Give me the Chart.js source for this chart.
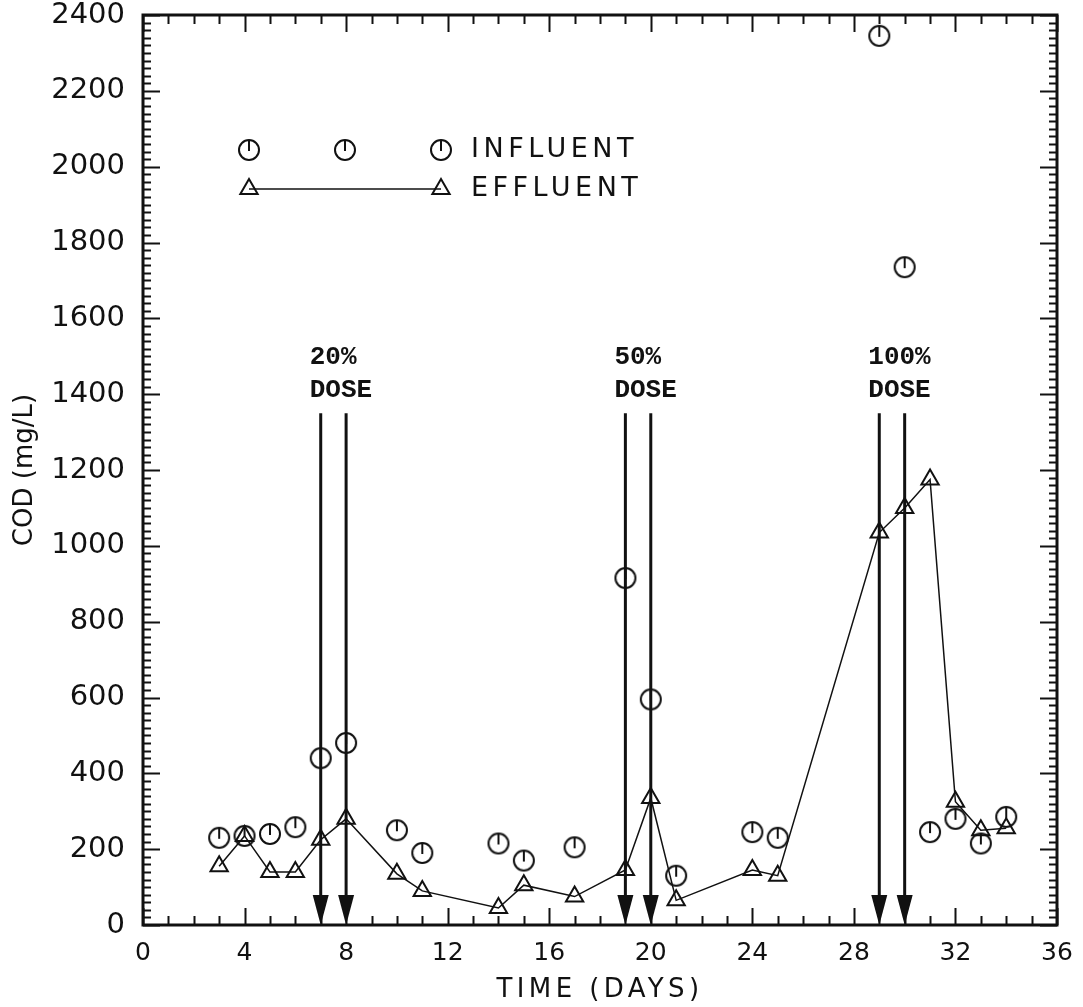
<!DOCTYPE html>
<html>
<head>
<meta charset="utf-8">
<script src="https://cdn.jsdelivr.net/npm/chart.js@4.4.1/dist/chart.umd.min.js"></script>
<style>
  html, body { margin: 0; padding: 0; background: #fff; }
  canvas { display: block; }
</style>
</head>
<body>
<canvas id="cod" width="1083" height="1007"></canvas>
<script>
// COD readings, mg/L
const influentDays = [3, 4, 5, 6, 7, 8, 10, 11, 14, 15, 17, 19, 20, 21, 24, 25, 29, 30, 31, 32, 33, 34];
const influentCod  = [230, 235, 240, 258, 440, 480, 250, 190, 215, 170, 205, 915, 595, 130, 245, 230, 2345, 1735, 245, 280, 215, 285];

const effluentDays = [3, 4, 5, 6, 7, 8, 10, 11, 14, 15, 17, 19, 20, 21, 24, 25, 29, 30, 31, 32, 33, 34];
const effluentCod  = [155, 235, 140, 140, 225, 280, 135, 90, 45, 105, 75, 145, 335, 65, 145, 130, 1035, 1100, 1175, 325, 250, 255];

// dosing events (arrows) and their labels
const doseDays = [7, 8, 19, 20, 29, 30];
const doseLabels = [
  { day: 7,  text: ['20%', 'DOSE'] },
  { day: 19, text: ['50%', 'DOSE'] },
  { day: 29, text: ['100%', 'DOSE'] }
];
const arrowTop = 1350;

const xTickStep = 4, xMax = 36;
const yTickStep = 200, yMax = 2400;

const INK = '#111';

// open circle with a short stroke from the top down to the centre
function makeCircleMark() {
  const c = document.createElement('canvas');
  c.width = 26; c.height = 26;
  const g = c.getContext('2d');
  g.strokeStyle = INK;
  g.lineWidth = 2;
  g.beginPath();
  g.arc(13, 13, 10, 0, Math.PI * 2);
  g.stroke();
  g.beginPath();
  g.moveTo(13, 3);
  g.lineTo(13, 14);
  g.stroke();
  return c;
}
const circleMark = makeCircleMark();

function drawTriangle(ctx, x, y, r) {
  ctx.beginPath();
  ctx.moveTo(x, y - r);
  ctx.lineTo(x + r * 0.866, y + r * 0.5);
  ctx.lineTo(x - r * 0.866, y + r * 0.5);
  ctx.closePath();
  ctx.stroke();
}

const framePlugin = {
  id: 'frame',
  beforeDraw(chart) {
    const ctx = chart.ctx;
    ctx.save();
    ctx.fillStyle = '#fff';
    ctx.fillRect(0, 0, chart.width, chart.height);
    ctx.restore();
  },
  beforeDatasetsDraw(chart) {
    const { ctx, scales: { x, y } } = chart;
    const bottom = y.getPixelForValue(0);
    const top = y.getPixelForValue(arrowTop);
    ctx.save();
    ctx.strokeStyle = INK;
    ctx.fillStyle = INK;
    ctx.lineWidth = 3;
    doseDays.forEach(d => {
      const px = x.getPixelForValue(d);
      ctx.beginPath();
      ctx.moveTo(px, top);
      ctx.lineTo(px, bottom - 20);
      ctx.stroke();
      ctx.beginPath();
      ctx.moveTo(px - 8, bottom - 30);
      ctx.lineTo(px + 8, bottom - 30);
      ctx.lineTo(px, bottom);
      ctx.closePath();
      ctx.fill();
    });

    // dose labels above the arrows
    ctx.font = 'bold 26px "Liberation Mono"';
    ctx.textAlign = 'left';
    ctx.textBaseline = 'alphabetic';
    doseLabels.forEach(l => {
      const px = x.getPixelForValue(l.day) - 11;
      ctx.fillText(l.text[0], px, top - 49);
      ctx.fillText(l.text[1], px, top - 16);
    });
    ctx.restore();
  },
  afterDatasetsDraw(chart) {
    const { ctx, chartArea: a, scales: { x, y } } = chart;
    ctx.save();
    ctx.strokeStyle = INK;

    // box
    ctx.lineWidth = 3;
    ctx.strokeRect(a.left, a.top, a.right - a.left, a.bottom - a.top);

    // inward ticks on all four sides
    ctx.lineWidth = 2;
    ctx.beginPath();
    for (let v = 0; v <= yMax; v += 20) {
      const py = Math.round(y.getPixelForValue(v)) + 0.5;
      const len = v % yTickStep === 0 ? 17 : 8;
      ctx.moveTo(a.left, py); ctx.lineTo(a.left + len, py);
      ctx.moveTo(a.right, py); ctx.lineTo(a.right - len, py);
    }
    for (let d = 0; d <= xMax; d += 1) {
      const px = Math.round(x.getPixelForValue(d)) + 0.5;
      const len = d % xTickStep === 0 ? 17 : 9;
      ctx.moveTo(px, a.bottom); ctx.lineTo(px, a.bottom - len);
      ctx.moveTo(px, a.top); ctx.lineTo(px, a.top + len);
    }
    ctx.stroke();

    // legend
    const lx = a.left + 106, mx = a.left + 202, rx = a.left + 298;
    const ly1 = a.top + 135, ly2 = a.top + 174;
    [lx, mx, rx].forEach(px => ctx.drawImage(circleMark, px - 13, ly1 - 13));
    ctx.lineWidth = 1.5;
    ctx.beginPath();
    ctx.moveTo(lx, ly2); ctx.lineTo(rx, ly2);
    ctx.stroke();
    ctx.lineWidth = 2;
    drawTriangle(ctx, lx, ly2, 10);
    drawTriangle(ctx, rx, ly2, 10);

    ctx.fillStyle = INK;
    ctx.font = '27px "DejaVu Sans"';
    ctx.letterSpacing = '4.5px';
    ctx.textAlign = 'left';
    ctx.textBaseline = 'middle';
    ctx.fillText('INFLUENT', rx + 30, ly1);
    ctx.fillText('EFFLUENT', rx + 30, ly2);

    // axis titles
    ctx.font = '26px "DejaVu Sans"';
    ctx.letterSpacing = '4.4px';
    ctx.textAlign = 'center';
    ctx.textBaseline = 'alphabetic';
    ctx.fillText('TIME (DAYS)', (a.left + a.right) / 2, 997);

    ctx.letterSpacing = '0px';
    ctx.translate(32, (a.top + a.bottom) / 2);
    ctx.rotate(-Math.PI / 2);
    ctx.fillText('COD (mg/L)', 0, 0);
    ctx.restore();
  }
};

const ctx = document.getElementById('cod').getContext('2d');
const codChart = new Chart(ctx, {
  type: 'line',
  data: {
    datasets: [
      {
        label: 'INFLUENT',
        data: influentDays.map((d, i) => ({ x: d, y: influentCod[i] })),
        showLine: false,
        pointStyle: circleMark,
        pointRadius: 11,
        borderColor: INK
      },
      {
        label: 'EFFLUENT',
        data: effluentDays.map((d, i) => ({ x: d, y: effluentCod[i] })),
        borderColor: INK,
        borderWidth: 1.5,
        tension: 0,
        pointStyle: 'triangle',
        pointRadius: 10,
        pointBorderWidth: 2,
        pointBorderColor: INK,
        pointBackgroundColor: 'rgba(0,0,0,0)'
      }
    ]
  },
  options: {
    responsive: false,
    animation: false,
    events: [],
    clip: false,
    layout: { padding: { top: 15, right: 26, left: 0, bottom: 0 } },
    plugins: {
      legend: { display: false },
      tooltip: { enabled: false }
    },
    scales: {
      x: {
        type: 'linear',
        min: 0,
        max: xMax,
        grid: { display: false, drawTicks: false },
        border: { display: false },
        ticks: {
          stepSize: xTickStep,
          autoSkip: false,
          maxRotation: 0,
          color: INK,
          padding: 13,
          font: { family: 'DejaVu Sans', size: 25 }
        },
        afterFit(scale) {
          scale.height = 82;
          scale.paddingLeft = 0;
          scale.paddingRight = 0;
        }
      },
      y: {
        min: 0,
        max: yMax,
        grid: { display: false, drawTicks: false },
        border: { display: false },
        ticks: {
          stepSize: yTickStep,
          autoSkip: false,
          color: INK,
          padding: 18,
          font: { family: 'DejaVu Sans', size: 29 },
          callback: v => String(v)
        },
        afterFit(scale) {
          scale.width = 143;
          scale.paddingTop = 0;
          scale.paddingBottom = 0;
        }
      }
    }
  },
  plugins: [framePlugin]
});
</script>
</body>
</html>
